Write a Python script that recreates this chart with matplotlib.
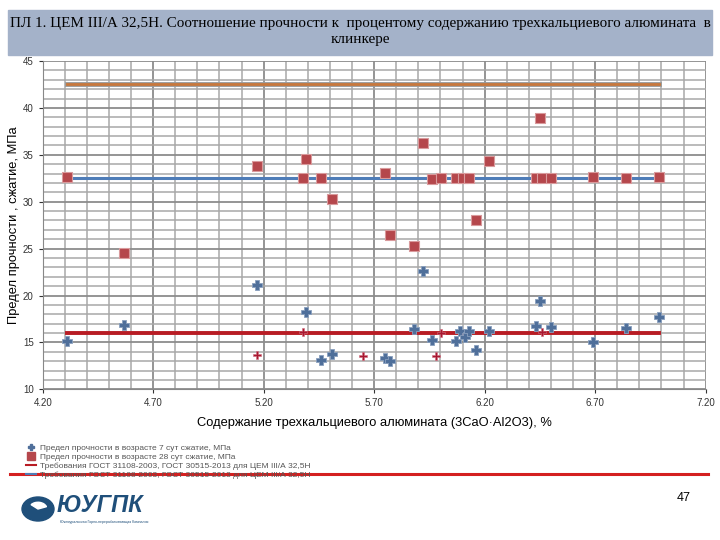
import numpy as np
import matplotlib.pyplot as plt
from matplotlib.lines import Line2D
from matplotlib.patches import Rectangle, Circle, Wedge

# 7-day compressive strength (blue markers)
x7 = [4.31, 4.57, 5.17, 5.39, 5.46, 5.51, 5.75, 5.77, 5.88, 5.92, 5.96,
      6.07, 6.09, 6.11, 6.13, 6.16, 6.22, 6.43, 6.45, 6.50, 6.69, 6.84, 6.99]
y7 = [15.1, 16.9, 21.1, 18.2, 13.1, 13.8, 13.3, 13.0, 16.4, 22.6, 15.3,
      15.1, 16.2, 15.6, 16.2, 14.2, 16.2, 16.75, 19.45, 16.6, 15.0, 16.5, 17.7]

# 7-day values drawn in red (small crosses)
x7_red = [5.17, 5.38, 5.65, 5.98, 6.00, 6.46]
y7_red = [13.7, 16.1, 13.6, 13.5, 16.0, 16.1]

# 28-day compressive strength (red squares)
x28 = [4.31, 4.57, 5.17, 5.38, 5.39, 5.46, 5.51, 5.75, 5.77, 5.88, 5.92,
       5.96, 6.00, 6.07, 6.10, 6.13, 6.16, 6.22, 6.43, 6.45, 6.46, 6.50,
       6.69, 6.84, 6.99]
y28 = [32.6, 24.5, 33.8, 32.5, 34.5, 32.5, 30.3, 33.1, 26.5, 25.3, 36.3,
       32.4, 32.55, 32.5, 32.5, 32.5, 28.1, 34.3, 32.5, 38.9, 32.5, 32.5,
       32.6, 32.5, 32.6]

# requirement lines (GOST)
req_x = [4.31, 6.99]
req_upper = 42.5
req_28 = 32.5
req_7 = 16.0

title = ("ПЛ 1. ЦЕМ III/А 32,5Н. Соотношение прочности к  процентому содержанию трехкальциевого алюмината  в\n"
         "клинкере")
legend_labels = [
    "Предел прочности в возрасте 7 сут сжатие, МПа",
    "Предел прочности в возрасте 28 сут сжатие, МПа",
    "Требования ГОСТ 31108-2003, ГОСТ 30515-2013 для ЦЕМ III/А 32,5Н",
    "Требования ГОСТ 31108-2003, ГОСТ 30515-2013 для ЦЕМ III/А 32,5Н",
]

plt.rcParams['font.family'] = ['Liberation Sans', 'DejaVu Sans']

fig = plt.figure(figsize=(7.2, 5.4), dpi=100)

# title bar
fig.patches.append(Rectangle((8/720, 1-55/540), 704/720, 45/540,
                             transform=fig.transFigure, color='#a4b2c9', zorder=0))
fig.text(0.5, 1-32/540, title, ha='center', va='center', fontsize=10.9,
         family=['Liberation Serif', 'DejaVu Serif'], linespacing=1.3)

ax = fig.add_axes([42.7/720, 1-389.3/540, 663/720, 328.3/540])
ax.set_xlim(4.2, 7.2)
ax.set_ylim(10, 45)
ax.set_xticks(np.arange(4.2, 7.21, 0.5))
ax.set_xticklabels([f"{v:.2f}" for v in np.arange(4.2, 7.21, 0.5)])
ax.set_yticks(np.arange(10, 46, 5))
ax.set_xticks(np.arange(4.2, 7.21, 0.1), minor=True)
ax.set_yticks(np.arange(10, 45.1, 1), minor=True)
ax.grid(which='major', color='#8c8c8c', lw=1.3)
ax.grid(which='minor', color='#a8a8a8', lw=1.1)
ax.tick_params(labelsize=7, colors='#333333', length=3)
ax.tick_params(which='minor', length=0)
for s in ['top', 'right']:
    ax.spines[s].set_visible(False)
for s in ['left', 'bottom']:
    ax.spines[s].set_color('#888888')
ax.set_axisbelow(True)

ax.plot(req_x, [req_upper]*2, color='#9a9a9a', lw=3.5, zorder=2)
ax.plot(req_x, [req_upper]*2, color='#c8783c', lw=2, zorder=3)
ax.plot(req_x, [req_28]*2, color='#4f7db8', lw=2.2, zorder=3)
ax.plot(req_x, [req_7]*2, color='#b81c24', lw=2.8, zorder=3)

ax.scatter(x28, y28, marker='s', s=55, color='#b5474c', edgecolors='#d99a9c',
           linewidths=0.8, zorder=4)
ax.scatter(x7, y7, marker='P', s=48, color='#4f6f9a', edgecolors='#8aa0be',
           linewidths=0.6, zorder=5)
ax.scatter(x7_red, y7_red, marker='P', s=26, color='#a81830', edgecolors='#d07080',
           linewidths=0.4, zorder=6)

ax.set_xlabel("Содержание трехкальциевого алюмината (3CaO·Al2O3), %", fontsize=9.3, labelpad=6)
ax.set_ylabel("Предел прочности , сжатие, МПа", fontsize=9.3, labelpad=2)

handles = [
    Line2D([], [], ls='none', marker='P', color='#4f6f9a', markersize=5),
    Line2D([], [], ls='none', marker='s', color='#b5474c', markersize=6),
    Line2D([], [], color='#b81c24', lw=1.5),
    Line2D([], [], color='#4f7db8', lw=1.5),
]
fig.legend(handles, legend_labels, loc='upper left', bbox_to_anchor=(22/720, 1-440/540),
           fontsize=6, frameon=False, handlelength=1.2, handletextpad=0.4,
           labelspacing=0.15, borderpad=0, labelcolor='#555555')

# slide decoration line
fig.add_artist(Line2D([10/720, 708/720], [1-474/540]*2, color='#d42020', lw=2.2))

# logo
fig.patches.append(Circle((38/720, 1-509/540), 16/720, transform=fig.transFigure,
                          color='#1f4f7a', zorder=3))
fig.patches.append(Wedge((38/720, 1-509/540), 9/720, 20, 140, transform=fig.transFigure,
                         color='white', zorder=4))
fig.text(57/720, 1-505/540, "ЮУГПК", fontsize=17, fontweight='bold', style='italic',
         color='#1f4f7a', va='center')
fig.text(60/720, 1-522/540, "Южноуральская Горно-перерабатывающая Компания", fontsize=2.5,
         color='#1f4f7a', va='center')

fig.text(684/720, 1-498/540, "47", fontsize=9, ha='center', va='center')

fig.savefig('out.png', dpi=100)
